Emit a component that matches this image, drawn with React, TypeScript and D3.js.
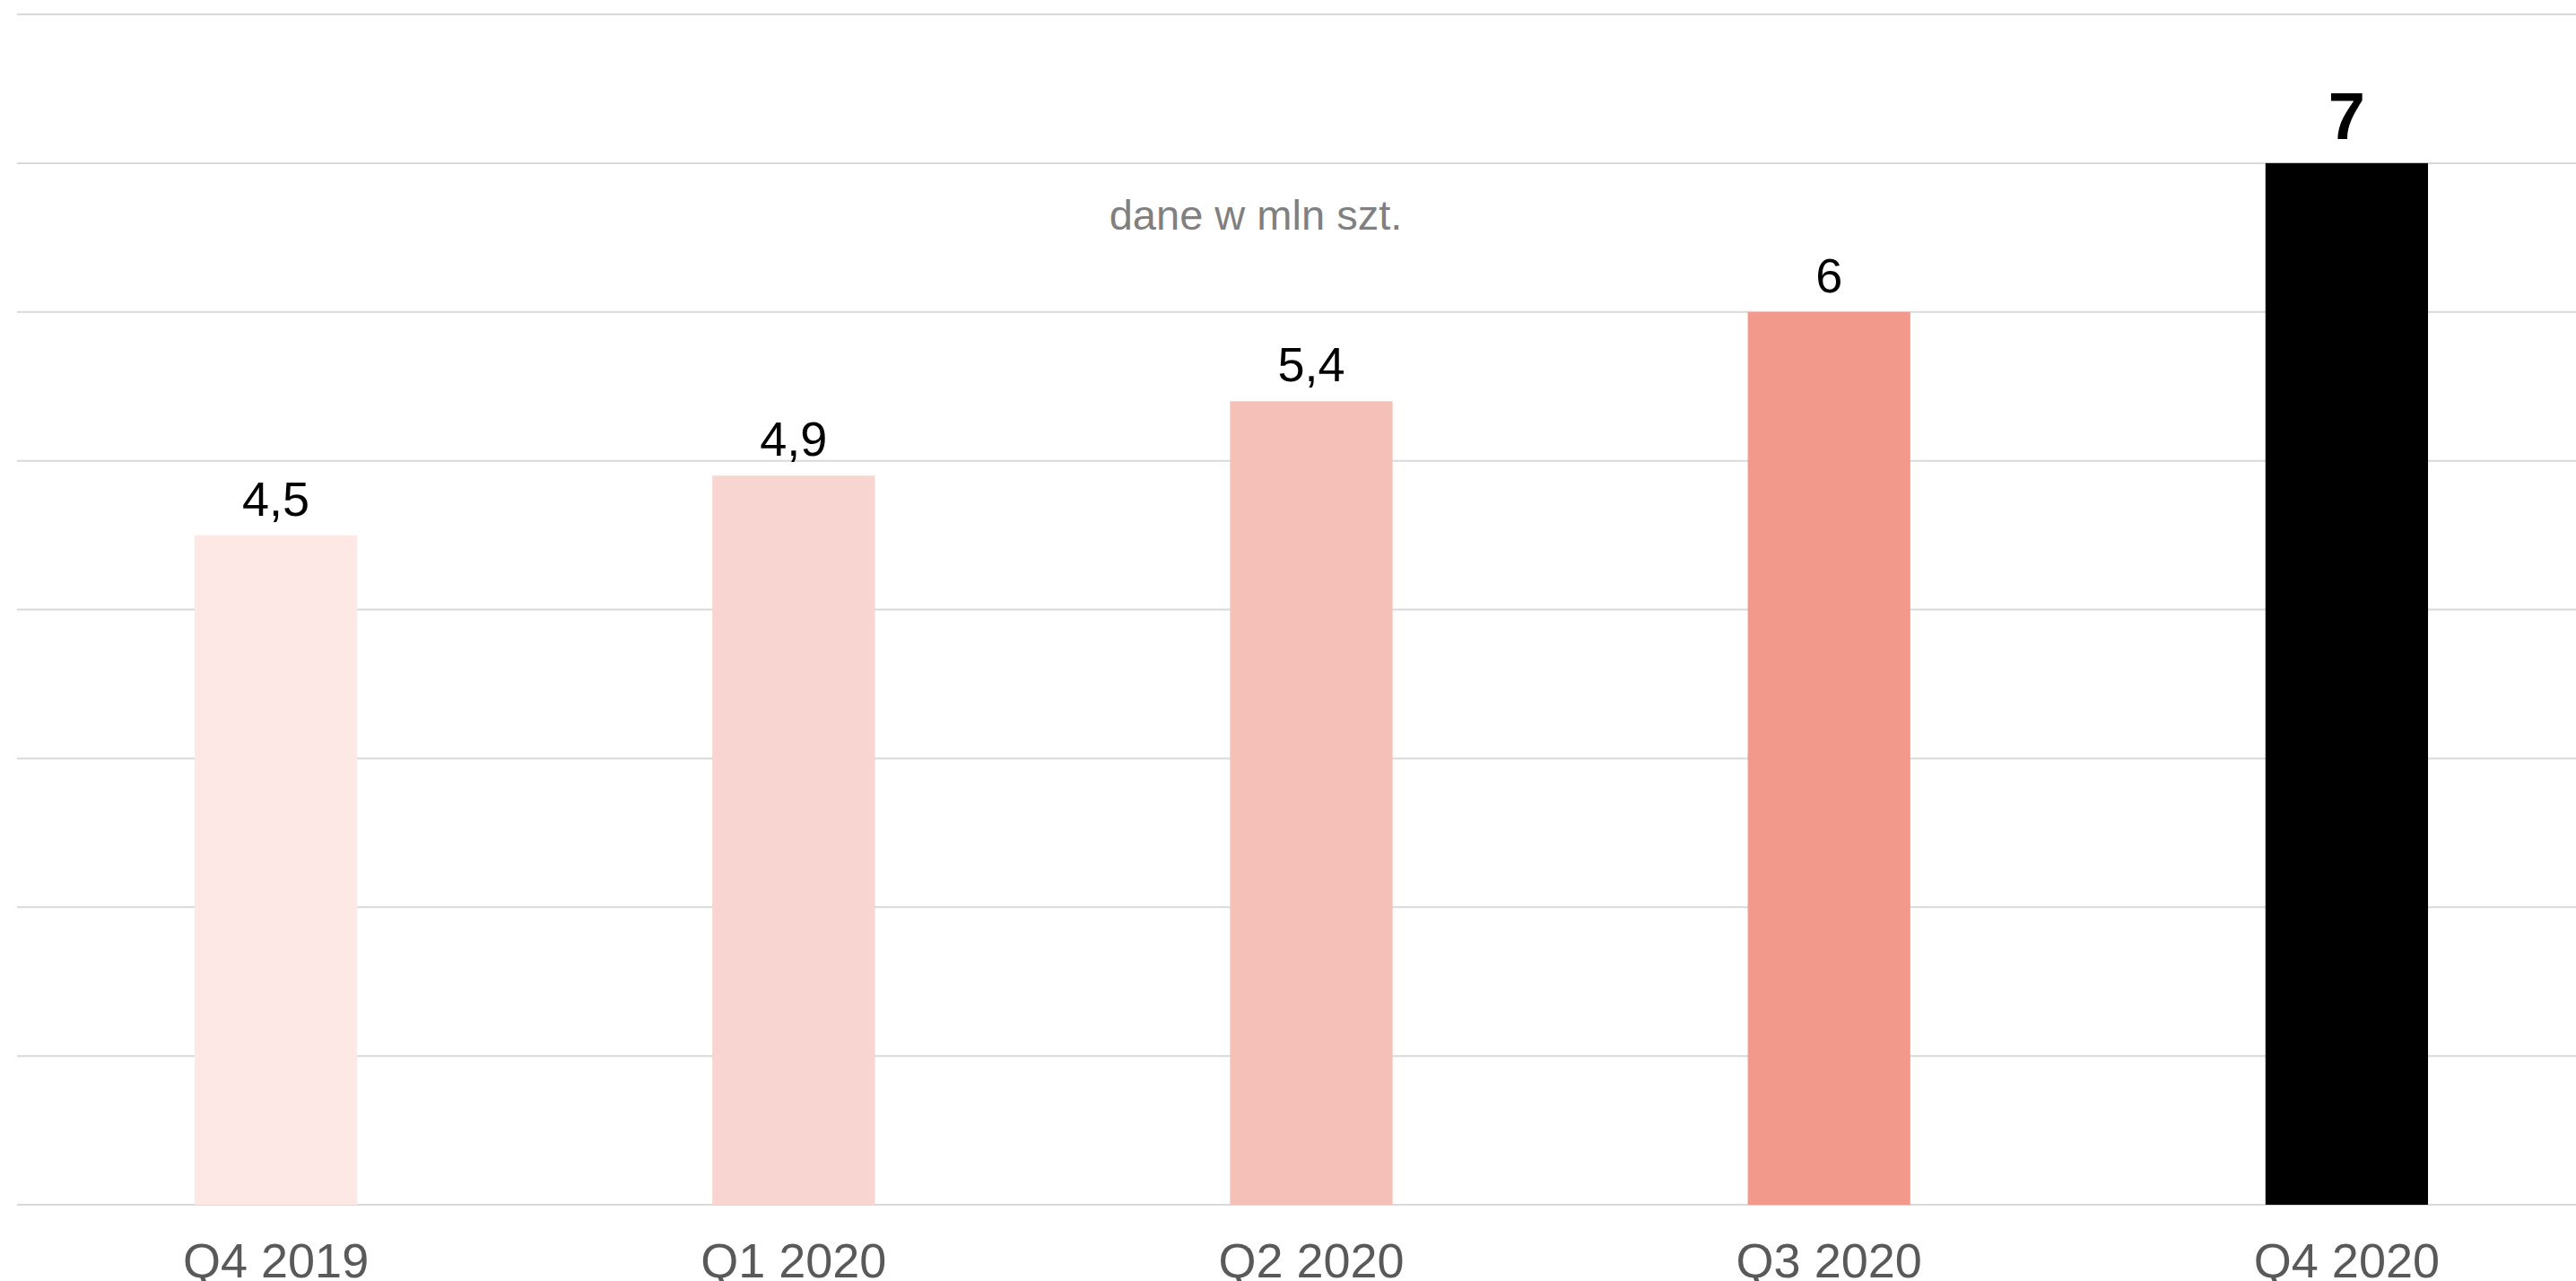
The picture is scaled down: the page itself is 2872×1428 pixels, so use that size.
import React from "react";
import * as d3 from "d3";

// quarterly values, mln pcs
const quarters = ["Q4 2019", "Q1 2020", "Q2 2020", "Q3 2020", "Q4 2020"];
const values = [4.5, 4.9, 5.4, 6, 7];
const barColors = ["#fde8e5", "#f8d5d0", "#f5c0b8", "#f2998c", "#000000"];
const gridTicks = [0, 1, 2, 3, 4, 5, 6, 7, 8];
const subtitle = "dane w mln szt.";

const width = 2872;
const height = 1428;
const margin = { top: 16, bottom: 85, left: 19 };

const pl = d3.formatLocale({ decimal: ",", thousands: " ", grouping: [3], currency: ["", " zł"] });
const fmt = pl.format("~g");

export default function App() {
  const x = d3
    .scaleBand()
    .domain(quarters)
    .range([margin.left, 2905])
    .paddingInner(0.686)
    .paddingOuter(0.343);
  const y = d3
    .scaleLinear()
    .domain([0, 8])
    .range([height - margin.bottom, margin.top]);

  const font = "'Liberation Sans', Arial, sans-serif";
  const last = values.length - 1;

  return (
    <svg
      width={width}
      height={height}
      style={{ position: "absolute", left: 0, top: 0, background: "#fff" }}
      fontFamily={font}
    >
      <g>
        {gridTicks.map((t) => (
          <line key={t} x1={margin.left} x2={width} y1={y(t)} y2={y(t)} stroke="#d9d9d9" strokeWidth={2} />
        ))}
      </g>
      <text x={1400} y={256} textAnchor="middle" fontSize={47} fill="#808080">
        {subtitle}
      </text>
      <g>
        {quarters.map((q, i) => (
          <rect
            key={q}
            x={x(q)}
            y={y(values[i])}
            width={x.bandwidth()}
            height={y(0) - y(values[i])}
            fill={barColors[i]}
          />
        ))}
      </g>
      <g>
        {quarters.map((q, i) => (
          <text
            key={q}
            x={(x(q) as number) + x.bandwidth() / 2}
            y={y(values[i]) - (i === last ? 27 : 22)}
            textAnchor="middle"
            fontSize={i === last ? 74 : 54}
            fontWeight={i === last ? "bold" : "normal"}
            fill="#000"
          >
            {fmt(values[i])}
          </text>
        ))}
      </g>
      <g>
        {quarters.map((q) => (
          <text
            key={q}
            x={(x(q) as number) + x.bandwidth() / 2}
            y={1424}
            textAnchor="middle"
            fontSize={54}
            fill="#595959"
          >
            {q}
          </text>
        ))}
      </g>
    </svg>
  );
}
